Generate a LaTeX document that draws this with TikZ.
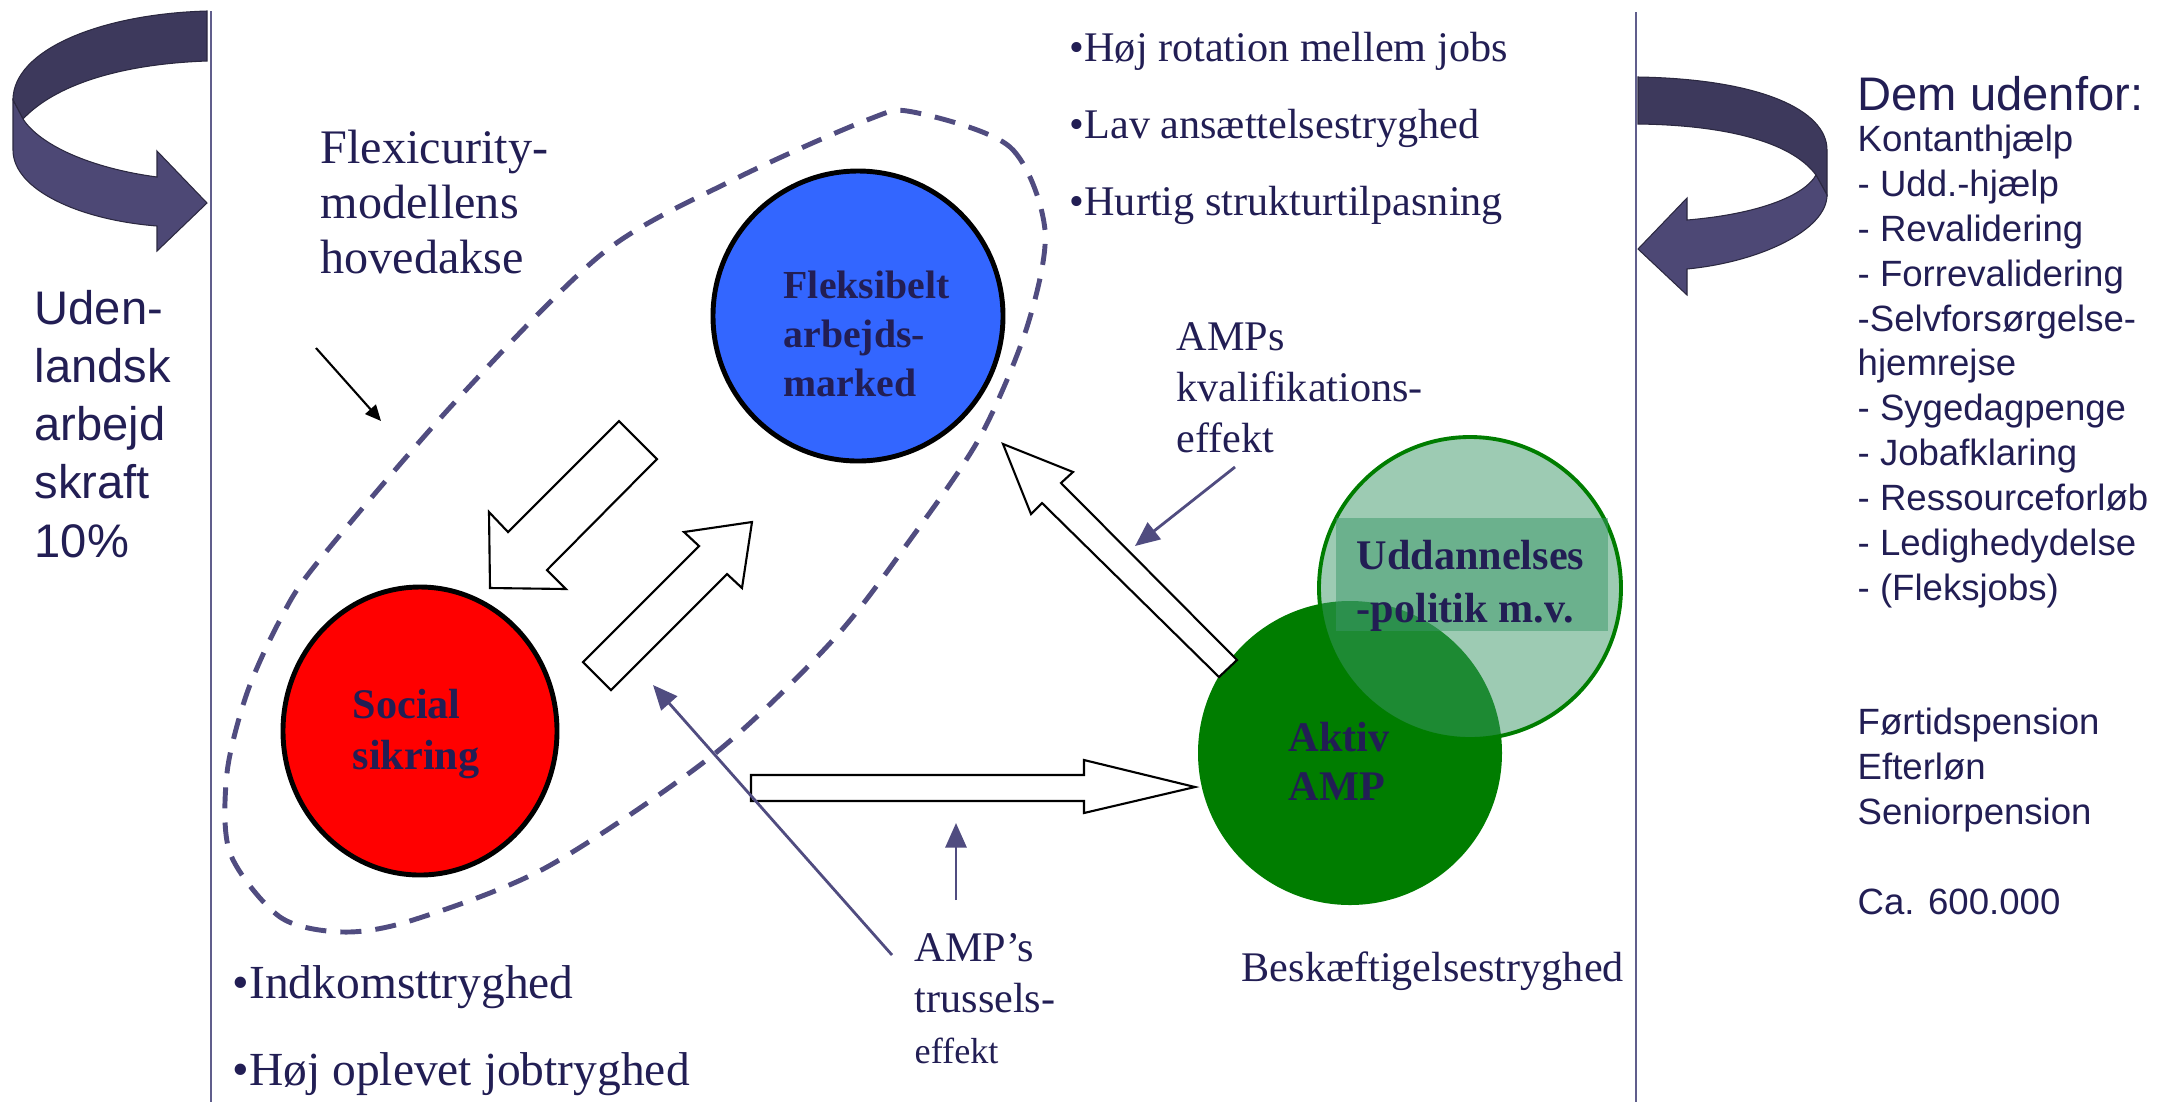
\documentclass[tikz,border=0pt]{standalone}
\usepackage{fontspec}
\setmainfont{Liberation Serif}
\newfontfamily\arialfont{Liberation Sans}
\usepackage{tkz-euclide}
\usetikzlibrary{arrows.meta}
\definecolor{tekstfarve}{RGB}{34,30,84}
\definecolor{lilla}{RGB}{80,76,128}
\definecolor{linje}{RGB}{96,94,140}
\definecolor{morklilla}{RGB}{61,57,92}
\definecolor{lyslilla}{RGB}{77,72,117}
\definecolor{blaa}{RGB}{51,102,255}
\definecolor{groen}{RGB}{0,125,0}
\definecolor{lysgroen}{RGB}{59,151,103}

\begin{document}
\begin{tikzpicture}[
        x=0.01cm, y=-0.01cm,
        lodret/.style={draw=linje, line width=0.6pt},
        bue/.style={draw=morklilla!70!black, line width=0.3pt},
        stiplet/.style={draw=lilla, line width=1.4pt, dash pattern=on 6pt off 4pt},
        kant/.style={draw=black, line width=1.4pt},
        blokpil/.style={draw=black, fill=white, line width=0.6pt, line join=miter},
        tyndpil/.style={draw=lilla, line width=0.8pt, -{Triangle[length=7pt,width=6pt]}},
        sortpil/.style={draw=black, line width=0.6pt, -{Triangle[length=4.5pt,width=4pt]}},
        tekst/.style={anchor=base west, inner sep=0pt, text=tekstfarve, align=left},
        serif/.style={tekst, font=\fontsize{12}{14.5}\selectfont},
        fed/.style={tekst, font=\bfseries\fontsize{12}{14.5}\selectfont},
        sans/.style={tekst, font=\arialfont\fontsize{13.4}{16.5}\selectfont},
        liste/.style={tekst, font=\arialfont\fontsize{10.4}{12.75}\selectfont}
      ]
        % 固定画布
        \useasboundingbox (0,0) rectangle (2157,1102);
        % 定义竖线端点
        \tkzDefPoints{211/11/V1, 211/1102/V2, 1636/12/H1, 1636/1102/H2}
        % 绘制两条竖线
        \draw[lodret] (V1) -- (V2) (H1) -- (H2);
        % 左侧弯箭头
        \filldraw[bue, fill=morklilla] (207,11) .. controls (100,14) and (13,50) .. (13,100)
          -- (23,119) .. controls (55,85) and (120,64) .. (207,61) -- cycle;
        \filldraw[bue, fill=lyslilla] (13,100) -- (13,150) .. controls (13,190) and (80,220) .. (157,226)
          -- (157,251) -- (207,203) -- (157,151) -- (157,177)
          .. controls (90,168) and (40,145) .. (23,119) -- cycle;
        % 右侧弯箭头
        \filldraw[bue, fill=morklilla] (1638,77) .. controls (1760,79) and (1827,110) .. (1827,150)
          -- (1827,195) -- (1816,175) .. controls (1790,140) and (1720,125) .. (1638,124) -- cycle;
        \filldraw[bue, fill=lyslilla] (1827,195) .. controls (1827,230) and (1760,262) .. (1687,269)
          -- (1687,295) -- (1638,249) -- (1687,198) -- (1687,220)
          .. controls (1760,214) and (1805,195) .. (1816,175) -- cycle;
        % 虚线外框
        \draw[stiplet] plot[smooth cycle] coordinates {(913,112) (1010,147) (1045,230) (1027,327)
          (980,437) (910,540) (833,640) (713,755) (547,867) (413,920) (343,932) (280,917)
          (230,853) (227,773) (247,693) (280,620) (317,563) (455,402) (603,253) (733,180) (867,120)};
        % 定义圆心
        \tkzDefPoints{858/316/F, 420/731/S, 1350/753/A, 1470/588/U}
        % 绘制各圆
        \draw[kant, fill=blaa] (F) circle [radius=145];
        \draw[kant, fill=red] (S) ellipse [x radius=137, y radius=144];
        \fill[groen] (A) circle [radius=152];
        \draw[draw=groen, line width=1.1pt, fill=lysgroen, fill opacity=0.5] (U) circle [radius=151];
        \fill[lysgroen, fill opacity=0.5] (1336,518) rectangle (1608,631);
        % 空心箭头
        \draw[blokpil] (619,421) -- (508,532) -- (489,512) -- (490,588) -- (566,589) -- (547,570) -- (657,459) -- cycle;
        \draw[blokpil] (583,662) -- (699,546) -- (684,532) -- (752,522) -- (742,588) -- (727,574) -- (611,690) -- cycle;
        \draw[blokpil] (1237,660) -- (1061,483) -- (1073,472) -- (1003,444) -- (1031,514) -- (1042,503) -- (1219,677) -- cycle;
        \draw[blokpil] (751,775) -- (1084,775) -- (1084,760) -- (1195,787) -- (1084,813) -- (1084,801) -- (751,801) -- cycle;
        % 定义细箭头端点
        \tkzDefPoints{316/348/s1, 381/421/s2, 1235/467/k1, 1135/546/k2,
          892/955/t1, 653/685/t2, 956/900/t3, 956/823/t4}
        % 绘制细箭头
        \draw[sortpil] (s1) -- (s2);
        \draw[tyndpil] (k1) -- (k2);
        \draw[tyndpil] (t1) -- (t2);
        \draw[tyndpil] (t3) -- (t4);
        % 圆内文字（锚点在末行基线）
        \node[fed, font=\bfseries\fontsize{11.3}{13.8}\selectfont] (flektekst) at (783,396) {Fleksibelt\\arbejds-\\marked};
        \node[fed] (socialtekst) at (352,769) {Social\\sikring};
        \node[fed, font=\bfseries\fontsize{12}{14.8}\selectfont] (uddtekst) at (1356,622) {Uddannelses\\-politik m.v.};
        \node[fed, font=\bfseries\fontsize{12}{13.7}\selectfont] (aktivtekst) at (1288,800) {Aktiv\\AMP};
        % 其余文字
        \node[sans] (uden) at (34,557) {Uden-\\landsk\\arbejd\\skraft\\10\%};
        \node[serif, font=\fontsize{13.7}{15.6}\selectfont] (flexi) at (320,273) {Flexicurity-\\modellens\\hovedakse};
        \node[serif, font=\fontsize{12}{21.8}\selectfont] (topliste) at (1069,215)
          {•Høj rotation mellem jobs\\•Lav ansættelsestryghed\\•Hurtig strukturtilpasning};
        \node[serif] (kvalif) at (1176,452) {AMPs\\kvalifikations-\\effekt};
        \node[serif] (trussel) at (914,1063) {AMP’s\\trussels-\\{\fontsize{10.3}{13.1}\selectfont effekt}};
        \node[serif] (beskaef) at (1241,981) {Beskæftigelsestryghed};
        \node[serif, font=\fontsize{13.5}{24.5}\selectfont] (bundliste) at (232,1085)
          {•Indkomsttryghed\\•Høj oplevet jobtryghed};
        \node[sans] (dem) at (1857,110) {Dem udenfor:};
        \node[liste] (ydelser) at (1857,914) {Kontanthjælp\\- Udd.-hjælp\\- Revalidering\\- Forrevalidering\\-Selvforsørgelse-\\hjemrejse\\- Sygedagpenge\\- Jobafklaring\\- Ressourceforløb\\- Ledighedydelse\\- (Fleksjobs)\\[25.5pt]Førtidspension\\Efterløn\\Seniorpension\\[12.75pt]Ca. 600.000};
\end{tikzpicture}
\end{document}
